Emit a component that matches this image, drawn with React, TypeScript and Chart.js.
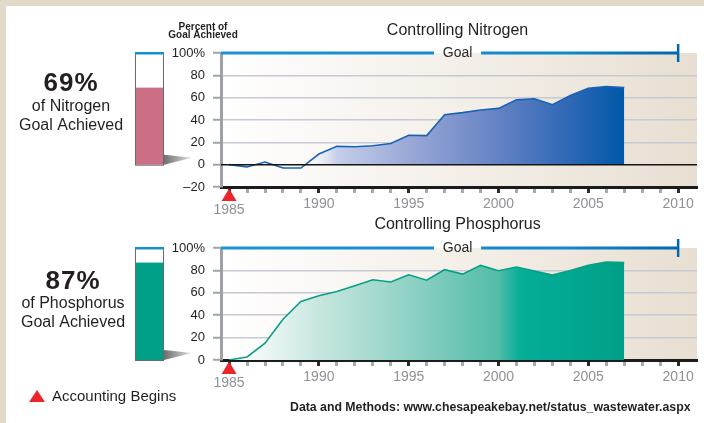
import React, { useEffect, useRef } from 'react';
import { Chart, registerables } from 'chart.js';

Chart.register(...registerables);

// ---- data ----
const years = [1985, 1986, 1987, 1988, 1989, 1990, 1991, 1992, 1993, 1994, 1995, 1996, 1997, 1998, 1999, 2000, 2001, 2002, 2003, 2004, 2005, 2006, 2007];
const nitrogenValues = [0, -2, 2.4, -3, -3, 9.5, 16.4, 16.1, 17, 19, 26.3, 26, 44.8, 46.6, 49, 50.4, 58, 59, 53.7, 62, 68.4, 70, 69];
const phosphorusValues = [0, 2.7, 15, 36.4, 52.2, 57.3, 61.2, 66.3, 71.6, 69.6, 76.1, 71.3, 80.6, 76.7, 84.5, 79.7, 83, 79.4, 75.8, 80, 84.5, 87.5, 87];

const xTickYears = [1985, 1986, 1987, 1988, 1989, 1990, 1991, 1992, 1993, 1994, 1995, 1996, 1997, 1998, 1999, 2000, 2001, 2002, 2003, 2004, 2005, 2006, 2007, 2008, 2009, 2010];
const xLabelYears = [1990, 1995, 2000, 2005, 2010];
const nitrogenYTicks = [-20, -10, 0, 10, 20, 30, 40, 50, 60, 70, 80, 90, 100];
const phosphorusYTicks = [0, 10, 20, 30, 40, 50, 60, 70, 80, 90, 100];
const labelledYTicks = [-20, 0, 20, 40, 60, 80, 100];
const gridLineValues = [20, 40, 60, 80];

const accountingStartYear = 1985;
const goalValue = 100;
const goalYear = 2010;

const FONT = '"Liberation Sans", Arial, Helvetica, sans-serif';
const TEXT = '#231f20';
const GOAL_BLUE = '#1690cf';

Chart.defaults.font.family = FONT;

type Stop = [number, string];

interface PanelSpec {
  title: string;
  nutrient: string;
  values: number[];
  yMin: number;
  yTicks: number[];
  lineColor: string;
  thermoColor: string;
  fillStops: Stop[];
  canvasHeight: number;
  areaTop: number;
  xAxisHeight: number;
  titleY: number;
  textX: number;
  textY: [number, number, number];
  zeroLine: boolean;
  header: boolean;
  footer: boolean;
}

const nitrogenSpec: PanelSpec = {
  title: 'Controlling Nitrogen',
  nutrient: 'Nitrogen',
  values: nitrogenValues,
  yMin: -20,
  yTicks: nitrogenYTicks,
  lineColor: '#1a63b4',
  thermoColor: '#cc6e86',
  fillStops: [
    [1989, 'rgba(255,255,255,0)'],
    [1991, '#c5cfea'],
    [1995, '#9aa8d6'],
    [2000, '#6482c4'],
    [2004, '#2d67b5'],
    [2007, '#0058a8'],
  ],
  canvasHeight: 220,
  areaTop: 53,
  xAxisHeight: 33,
  titleY: 31,
  textX: 71,
  textY: [84, 107, 126],
  zeroLine: true,
  header: true,
  footer: false,
};

const phosphorusSpec: PanelSpec = {
  title: 'Controlling Phosphorus',
  nutrient: 'Phosphorus',
  values: phosphorusValues,
  yMin: 0,
  yTicks: phosphorusYTicks,
  lineColor: '#07a085',
  thermoColor: '#00a088',
  fillStops: [
    [1985.5, '#ffffff'],
    [1990, '#c7e6df'],
    [1995, '#90d2c5'],
    [2000, '#52bca9'],
    [2001.2, '#04ae97'],
    [2007, '#009f87'],
  ],
  canvasHeight: 213,
  areaTop: 38,
  xAxisHeight: 63,
  titleY: 15,
  textX: 73,
  textY: [72, 94, 113],
  zeroLine: false,
  header: false,
  footer: true,
};

const THERMO_LEFT = 135;
const THERMO_RIGHT = 164;

function minusLabel(v: number) {
  return v < 0 ? '\u2013' + Math.abs(v) : String(v);
}

function drawPlotBackground(chart: Chart) {
  const { ctx, chartArea: a } = chart;
  const g = ctx.createLinearGradient(a.left, 0, a.right, 0);
  g.addColorStop(0, '#ffffff');
  g.addColorStop(1, '#e8dfd2');
  ctx.save();
  ctx.fillStyle = g;
  ctx.fillRect(a.left, a.top, a.right - a.left, a.bottom - a.top);
  ctx.restore();
}

function drawZeroLine(chart: Chart) {
  const { ctx, chartArea: a } = chart;
  const y0 = chart.scales.y.getPixelForValue(0);
  ctx.save();
  ctx.strokeStyle = '#151515';
  ctx.lineWidth = 1.5;
  ctx.beginPath();
  ctx.moveTo(a.left, y0);
  ctx.lineTo(a.right, y0);
  ctx.stroke();
  ctx.restore();
}

function drawGoal(chart: Chart) {
  const { ctx, chartArea: a } = chart;
  const xs = chart.scales.x;
  const gy = chart.scales.y.getPixelForValue(goalValue);
  const end = xs.getPixelForValue(goalYear);
  const mid = (a.left + end) / 2 + 8;
  const gap = 23.5;
  const g = ctx.createLinearGradient(a.left, 0, end, 0);
  g.addColorStop(0, '#1b93d1');
  g.addColorStop(0.75, '#1388cb');
  g.addColorStop(1, '#0068b0');
  ctx.save();
  ctx.strokeStyle = g;
  ctx.lineWidth = 3;
  ctx.beginPath();
  ctx.moveTo(a.left, gy);
  ctx.lineTo(mid - gap, gy);
  ctx.moveTo(mid + gap, gy);
  ctx.lineTo(end, gy);
  ctx.stroke();
  ctx.lineWidth = 2.5;
  ctx.strokeStyle = '#0068b0';
  ctx.beginPath();
  ctx.moveTo(end, gy - 9);
  ctx.lineTo(end, gy + 9);
  ctx.stroke();
  ctx.fillStyle = '#2a2a2a';
  ctx.font = `14px ${FONT}`;
  ctx.textAlign = 'center';
  ctx.textBaseline = 'middle';
  ctx.fillText('Goal', mid, gy + 0.5);
  ctx.restore();
}

function drawTriangle(ctx: CanvasRenderingContext2D, cx: number, top: number, h: number, w: number) {
  ctx.beginPath();
  ctx.moveTo(cx, top);
  ctx.lineTo(cx + w / 2, top + h);
  ctx.lineTo(cx - w / 2, top + h);
  ctx.closePath();
  ctx.fillStyle = '#e8262b';
  ctx.fill();
}

function drawAccountingMarker(chart: Chart) {
  const { ctx, chartArea: a } = chart;
  const x = chart.scales.x.getPixelForValue(accountingStartYear);
  ctx.save();
  drawTriangle(ctx, x, a.bottom + 1.5, 12.5, 15);
  ctx.fillStyle = '#8e9196';
  ctx.font = `14px ${FONT}`;
  ctx.textAlign = 'center';
  ctx.textBaseline = 'middle';
  ctx.fillText(String(accountingStartYear), x, a.bottom + 23);
  ctx.restore();
}

function drawThermometer(chart: Chart, spec: PanelSpec, achieved: number) {
  const { ctx } = chart;
  const ys = chart.scales.y;
  const top = ys.getPixelForValue(goalValue);
  const bottom = ys.getPixelForValue(0);
  const level = ys.getPixelForValue(achieved);
  const L = THERMO_LEFT;
  const R = THERMO_RIGHT;
  ctx.save();
  // shadow wedge toward the axis
  const sg = ctx.createLinearGradient(R, 0, R + 28, 0);
  sg.addColorStop(0, '#6e6e6e');
  sg.addColorStop(1, '#e2e2e2');
  ctx.fillStyle = sg;
  ctx.beginPath();
  ctx.moveTo(R, bottom - 10);
  ctx.lineTo(R + 28, bottom - 7);
  ctx.lineTo(R, bottom);
  ctx.closePath();
  ctx.fill();
  // body
  ctx.fillStyle = '#ffffff';
  ctx.fillRect(L, top, R - L, bottom - top);
  ctx.fillStyle = spec.thermoColor;
  ctx.fillRect(L, level, R - L, bottom - level);
  ctx.strokeStyle = '#6a6a6a';
  ctx.lineWidth = 1;
  ctx.strokeRect(L + 0.5, top + 0.5, R - L - 1, bottom - top);
  // goal cap
  ctx.fillStyle = GOAL_BLUE;
  ctx.fillRect(L, top - 1, R - L, 2.5);
  ctx.restore();
}

function drawTexts(chart: Chart, spec: PanelSpec, achieved: number) {
  const { ctx, chartArea: a } = chart;
  const xs = chart.scales.x;
  ctx.save();
  ctx.fillStyle = TEXT;
  ctx.textAlign = 'center';
  ctx.textBaseline = 'middle';

  ctx.font = `16px ${FONT}`;
  const titleX = (a.left + xs.getPixelForValue(goalYear)) / 2 + 8;
  ctx.fillText(spec.title, titleX, spec.titleY);

  ctx.font = `bold 26px ${FONT}`;
  (ctx as any).letterSpacing = '1px';
  ctx.fillText(`${achieved}%`, spec.textX, spec.textY[0]);
  (ctx as any).letterSpacing = '0px';
  ctx.font = `16px ${FONT}`;
  ctx.fillText(`of ${spec.nutrient}`, spec.textX, spec.textY[1]);
  ctx.fillText('Goal Achieved', spec.textX, spec.textY[2]);

  if (spec.header) {
    ctx.font = `bold 10px ${FONT}`;
    ctx.fillText('Percent of', 203, 27);
    ctx.fillText('Goal Achieved', 203, 35.5);
  }

  if (spec.footer) {
    drawTriangle(ctx, 37, 180, 12, 16);
    ctx.fillStyle = TEXT;
    ctx.textAlign = 'left';
    ctx.font = `15px ${FONT}`;
    ctx.fillText('Accounting Begins', 52, 187);
    ctx.font = `bold 12.3px ${FONT}`;
    ctx.fillText('Data and Methods: www.chesapeakebay.net/status_wastewater.aspx', 290, 198);
  }
  ctx.restore();
}

function panelPlugin(spec: PanelSpec) {
  const achieved = Math.round(spec.values[spec.values.length - 1]);
  return {
    id: 'nutrientPanel',
    beforeDraw(chart: Chart) {
      drawPlotBackground(chart);
    },
    afterDatasetsDraw(chart: Chart) {
      if (spec.zeroLine) drawZeroLine(chart);
    },
    afterDraw(chart: Chart) {
      drawGoal(chart);
      drawAccountingMarker(chart);
      drawThermometer(chart, spec, achieved);
      drawTexts(chart, spec, achieved);
    },
  };
}

function areaFill(spec: PanelSpec) {
  return (context: any) => {
    const chart = context.chart as Chart;
    const xs = chart.scales.x;
    if (!chart.chartArea || !xs) return 'rgba(0,0,0,0)';
    const stops = spec.fillStops;
    const x0 = xs.getPixelForValue(stops[0][0]);
    const x1 = xs.getPixelForValue(stops[stops.length - 1][0]);
    const g = chart.ctx.createLinearGradient(x0, 0, x1, 0);
    stops.forEach(([yr, c]) => {
      g.addColorStop(Math.min(1, Math.max(0, (xs.getPixelForValue(yr) - x0) / (x1 - x0))), c);
    });
    return g;
  };
}

function buildConfig(spec: PanelSpec): any {
  return {
    type: 'line',
    data: {
      datasets: [
        {
          data: years.map((yr, i) => ({ x: yr, y: spec.values[i] })),
          borderColor: spec.lineColor,
          borderWidth: 1.6,
          pointRadius: 0,
          tension: 0,
          fill: 'origin',
          backgroundColor: areaFill(spec),
        },
      ],
    },
    options: {
      responsive: false,
      animation: false,
      events: [],
      layout: { padding: { top: spec.areaTop, right: 7, left: 0, bottom: 0 } },
      plugins: {
        legend: { display: false },
        tooltip: { enabled: false },
        title: { display: false },
      },
      scales: {
        x: {
          type: 'linear',
          min: 1984.55,
          max: 2011.05,
          bounds: 'data',
          afterBuildTicks: (axis: any) => {
            axis.ticks = xTickYears.map((v) => ({ value: v }));
          },
          afterFit: (axis: any) => {
            axis.height = spec.xAxisHeight;
          },
          border: { color: '#1b1b1b', width: 3 },
          grid: {
            drawOnChartArea: false,
            drawTicks: true,
            tickLength: 6,
            tickWidth: 3,
            tickColor: (c: any) => (c.tick && c.tick.value % 5 === 0 ? '#2b2b2b' : '#a6aaaf'),
          },
          ticks: {
            autoSkip: false,
            maxRotation: 0,
            padding: 3,
            color: '#8e9196',
            font: { size: 14 },
            callback: (v: any) => (xLabelYears.includes(Number(v)) ? String(v) : ''),
          },
        },
        y: {
          type: 'linear',
          min: spec.yMin,
          max: goalValue,
          bounds: 'data',
          afterBuildTicks: (axis: any) => {
            axis.ticks = spec.yTicks.map((v) => ({ value: v }));
          },
          afterFit: (axis: any) => {
            axis.width = 221;
          },
          border: { color: '#9ea2a7', width: 3 },
          grid: {
            color: (c: any) => (c.tick && gridLineValues.includes(c.tick.value) ? '#c6cad3' : 'rgba(0,0,0,0)'),
            lineWidth: 1.5,
            drawTicks: true,
            tickLength: 8,
            tickWidth: 2,
            tickColor: '#a0a4a9',
          },
          ticks: {
            padding: 8,
            color: TEXT,
            font: { size: 13 },
            callback: (v: any) => {
              const n = Number(v);
              if (n === goalValue) return '100%';
              return labelledYTicks.includes(n) ? minusLabel(n) : '';
            },
          },
        },
      },
    },
    plugins: [panelPlugin(spec)],
  };
}

export default function App() {
  const topRef = useRef<HTMLCanvasElement>(null);
  const bottomRef = useRef<HTMLCanvasElement>(null);

  useEffect(() => {
    const charts: Chart[] = [];
    if (topRef.current) charts.push(new Chart(topRef.current, buildConfig(nitrogenSpec)));
    if (bottomRef.current) charts.push(new Chart(bottomRef.current, buildConfig(phosphorusSpec)));
    return () => charts.forEach((c) => c.destroy());
  }, []);

  return (
    <div
      style={{
        position: 'absolute',
        left: 0,
        top: 0,
        width: 704,
        height: 423,
        background: '#e2dac8',
        overflow: 'hidden',
      }}
    >
      <div style={{ position: 'absolute', left: 6, top: 6, right: 0, bottom: 0, background: '#ffffff' }} />
      <canvas
        ref={topRef}
        width={704}
        height={nitrogenSpec.canvasHeight}
        style={{ position: 'absolute', left: 0, top: 0, width: 704, height: nitrogenSpec.canvasHeight }}
      />
      <canvas
        ref={bottomRef}
        width={704}
        height={phosphorusSpec.canvasHeight}
        style={{ position: 'absolute', left: 0, top: 210, width: 704, height: phosphorusSpec.canvasHeight }}
      />
    </div>
  );
}
